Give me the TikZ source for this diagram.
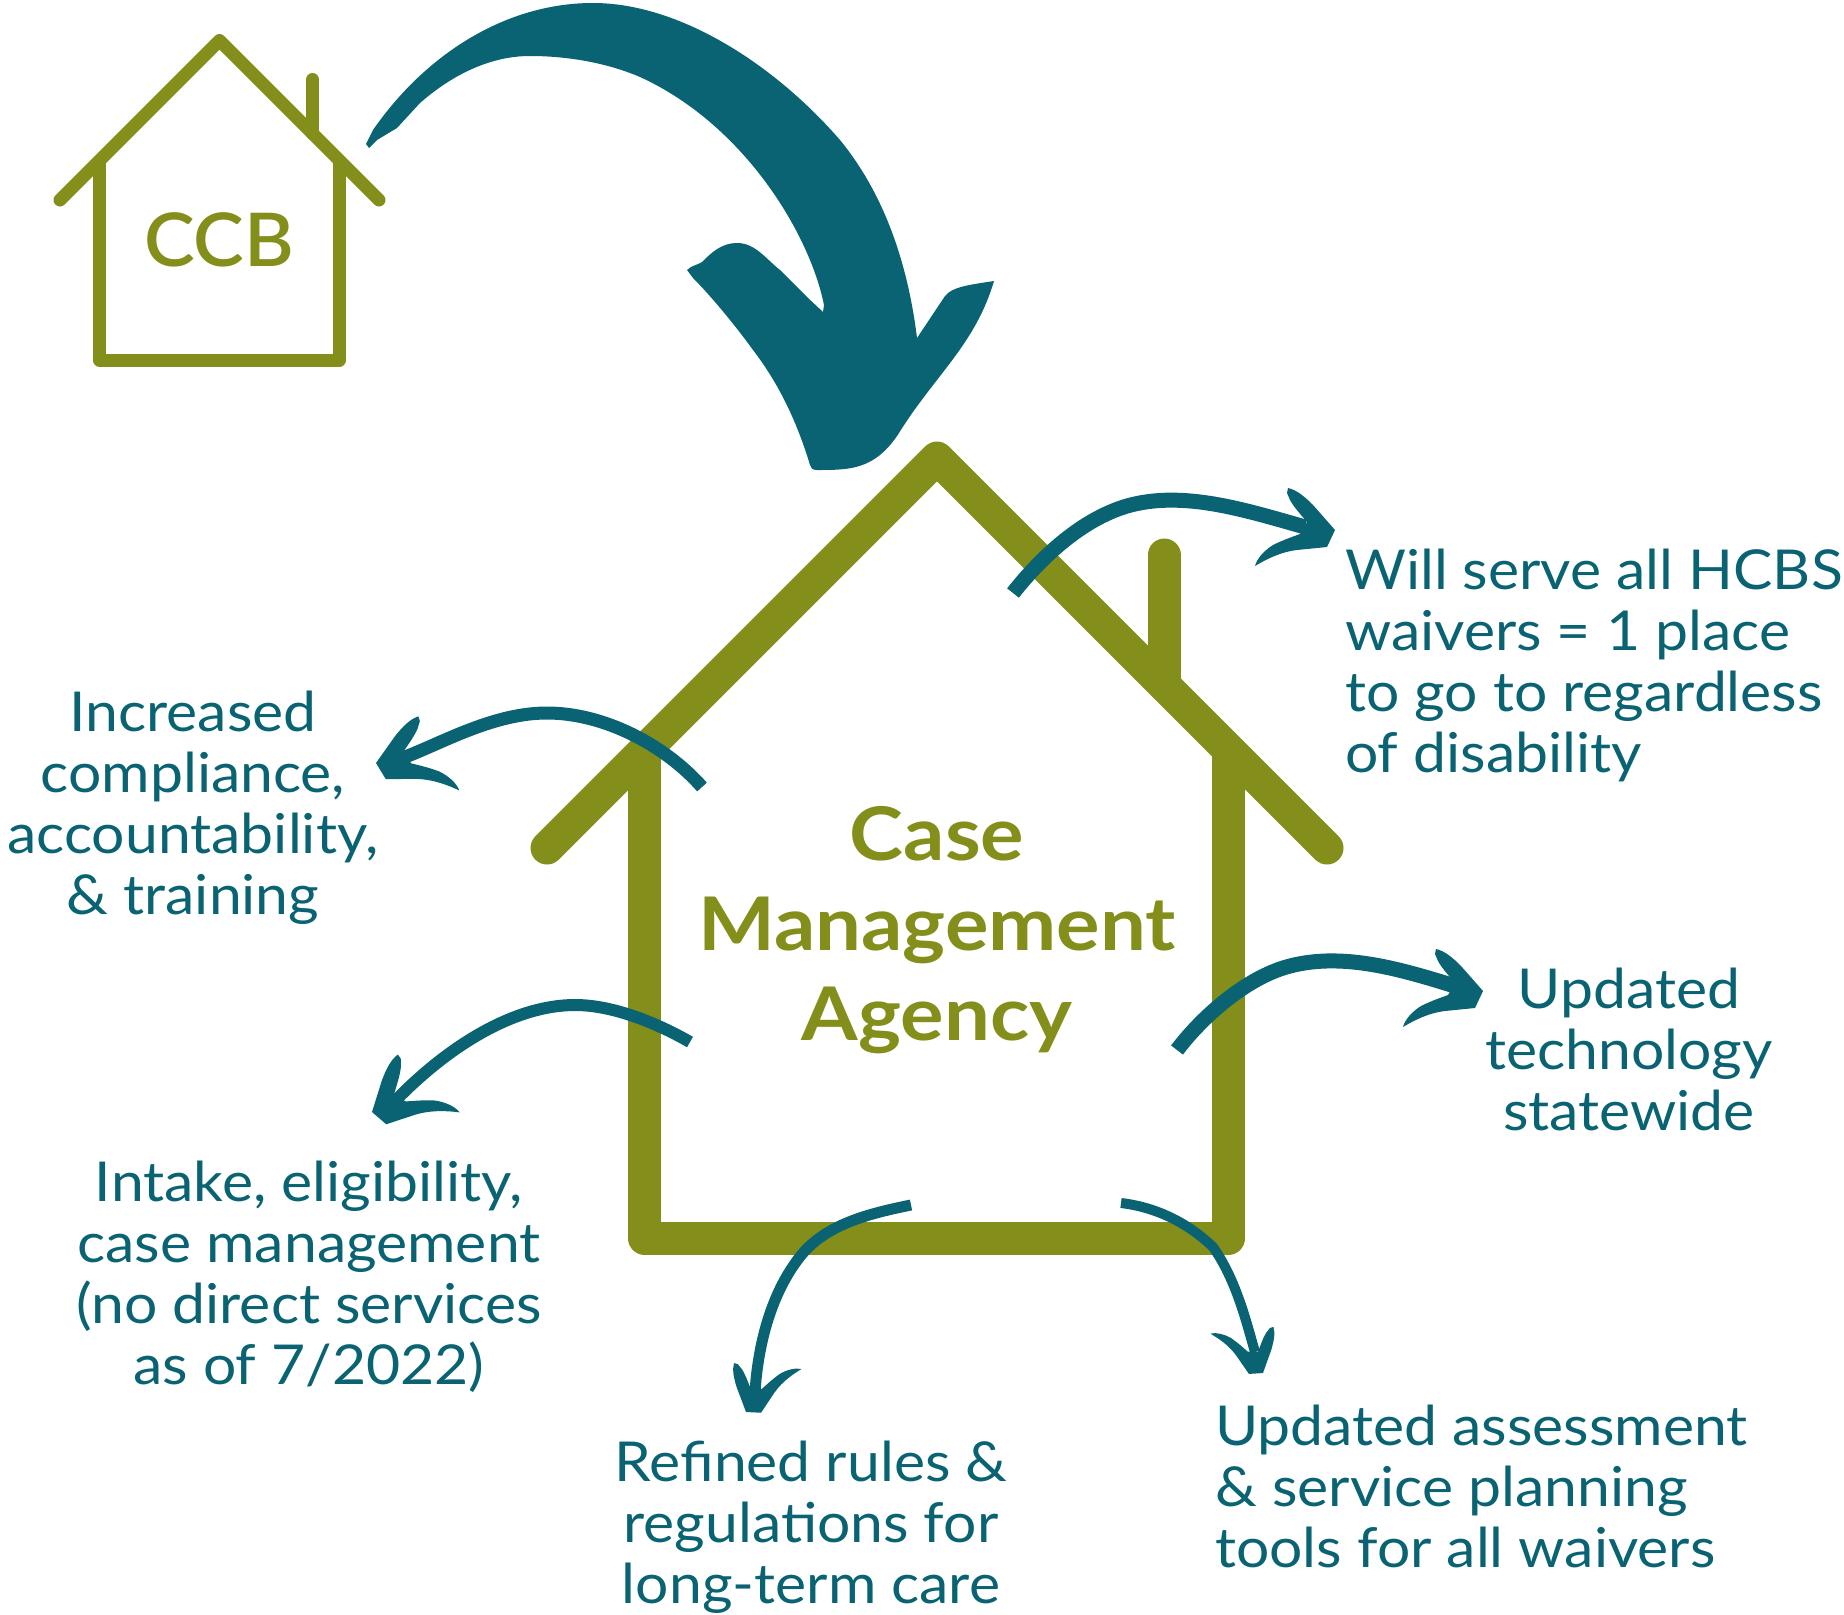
\documentclass[tikz,border=0pt]{standalone}
\usepackage{fontspec}
\setmainfont[FakeStretch=1.07]{Lato}
\newfontfamily\housefont[FakeStretch=1.03]{Lato Semibold}
\newfontfamily\agencyfont[FakeStretch=1.1]{Lato Bold}
\definecolor{houseolive}{RGB}{131,142,27}
\definecolor{arrowteal}{RGB}{9,99,114}
\tikzset{
	bigwall/.style={draw=houseolive, line width=33pt, line join=round},
	bigroof/.style={draw=houseolive, line width=33pt, line join=round, line cap=round},
	smallwall/.style={draw=houseolive, line width=13pt, line join=round},
	smallroof/.style={draw=houseolive, line width=13pt, line join=round, line cap=round},
	brushline/.style={draw=arrowteal, line width=#1},
	labeltext/.style={text=arrowteal, font=\fontsize{55}{61}\selectfont, inner sep=0pt},
	housetext/.style={text=houseolive, inner sep=0pt},
	brushhead/.pic={
		\fill[arrowteal] (0,0) -- (-8,17) -- (-38,20) .. controls (-55,22) and (-70,30) .. (-80,36)
			.. controls (-78,28) and (-70,20) .. (-62,15) .. controls (-50,9) and (-40,6) .. (-35,4)
			-- (-28,-8) .. controls (-34,-15) and (-42,-24) .. (-45,-30) -- (-48,-37) -- (-47,-42)
			.. controls (-38,-40) and (-30,-33) .. (-22,-25) -- cycle;
	}
}
\begin{document}
\begin{tikzpicture}[x=1pt, y=-1pt]
		\useasboundingbox (0,0) rectangle (1844,1614);

		\draw [smallwall] (99.5,160) -- (99.5,360) -- (339.5,360) -- (339.5,160);
		\draw [smallroof] (60,200) -- (219.5,40.5) -- (379,200);
		\draw [smallroof] (312.5,79.5) -- (312.5,133.5);
		\node[housetext, font=\fontsize{74}{80}\housefont] (ccb) at (219,240) {CCB};

		\draw [bigwall] (644.5,750) -- (644.5,1238) -- (1228.5,1238) -- (1228.5,750);
		\draw [bigroof] (547,848) -- (937,458) -- (1327,848);
		\draw [bigroof] (1164,555) -- (1164,685);
		\node[housetext, align=center, font=\fontsize{74}{90}\agencyfont] (agency) at (937,930) {Case\\Management\\Agency};

		\coordinate (bigtail) at (369,148);
		\fill[arrowteal] (bigtail) -- (366,144) -- (373,130) .. controls (425,55) and (505,3) .. (593,3)
			.. controls (680,3) and (775,65) .. (840,140) .. controls (885,195) and (908,265) .. (917,338)
			-- (945,296) .. controls (952,287) and (968,285) .. (994,281)
			.. controls (975,345) and (935,375) .. (899,433) .. controls (875,470) and (850,470) .. (817,470)
			.. controls (812,470) and (811,468) .. (810,465) .. controls (798,425) and (780,385) .. (753,350)
			.. controls (735,325) and (710,295) .. (693,278) -- (687,270) .. controls (692,265) and (698,265) .. (702,262)
			.. controls (712,252) and (722,243) .. (737,243) .. controls (755,243) and (765,258) .. (780,270)
			-- (807,297) -- (823,312) -- (824,305) .. controls (810,235) and (745,125) .. (640,77)
			.. controls (605,62) and (565,56) .. (530,56) .. controls (490,56) and (452,75) .. (420,103)
			-- (397,128) -- (377,140) -- cycle;

		\node[labeltext, anchor=west, align=left] (waivers) at (1345,665) {Will serve all HCBS\\waivers = 1 place\\to go to regardless\\of disability};
		\node[labeltext, align=center] (compliance) at (193,808) {Increased\\compliance,\\accountability,\\\& training};
		\node[labeltext, align=center] (intake) at (309,1277) {Intake, eligibility,\\case management\\(no direct services\\as of 7/2022)};
		\node[labeltext, align=center] (rules) at (811,1527) {Refined rules \&\\regulations for\\long-term care};
		\node[labeltext, anchor=west, align=left] (tools) at (1215,1486) {Updated assessment\\\& service planning\\tools for all waivers};
		\node[labeltext, align=center] (technology) at (1629,1049) {Updated\\technology\\statewide};

		\coordinate (waiverstail) at (1013,593);
		\coordinate (waiversend) at (1305,527);
		\coordinate (waiverstip) at (1335,530);
		\draw [brushline=15pt] (waiverstail) .. controls (1043,555) and (1083,519) .. (1127,506) .. controls (1183,490) and (1245,510) .. (waiversend);
		\path pic at (waiverstip) {brushhead};

		\coordinate (compliancetail) at (702,787);
		\coordinate (complianceend) at (405,757);
		\coordinate (compliancetip) at (376,763);
		\draw [brushline=13pt] (compliancetail) .. controls (665,745) and (604,713) .. (547,713) .. controls (494,713) and (444,742) .. (complianceend);
		\path pic[rotate=6, xscale=-1] at (compliancetip) {brushhead};

		\coordinate (intaketail) at (690,1042);
		\coordinate (intakeend) at (397,1099);
		\coordinate (intaketip) at (372,1112);
		\draw [brushline=12pt] (intaketail) .. controls (655,1022) and (612,1005) .. (575,1005) .. controls (515,1005) and (450,1045) .. (intakeend);
		\path pic[rotate=24, xscale=-1] at (intaketip) {brushhead};

		\coordinate (rulestail) at (911,1205);
		\coordinate (rulesend) at (755,1392);
		\coordinate (rulestip) at (746,1412);
		\draw [brushline=11pt] (rulestail) .. controls (872,1213) and (829,1223) .. (803,1253) .. controls (771,1291) and (758,1345) .. (rulesend);
		\path pic[rotate=62, xscale=-.8, yscale=.8] at (rulestip) {brushhead};

		\coordinate (toolstail) at (1121,1203);
		\coordinate (toolsend) at (1255,1352);
		\coordinate (toolstip) at (1263,1373);
		\draw [brushline=10pt] (toolstail) .. controls (1155,1207) and (1187,1222) .. (1213,1247) .. controls (1237,1281) and (1247,1325) .. (toolsend);
		\path pic[rotate=-61, scale=.75] at (toolstip) {brushhead};

		\coordinate (technologytail) at (1177,1050);
		\coordinate (technologyend) at (1458,987);
		\coordinate (technologytip) at (1483,991);
		\draw [brushline=15pt] (technologytail) .. controls (1202,1017) and (1243,981) .. (1283,968) .. controls (1340,950) and (1403,970) .. (technologyend);
		\path pic at (technologytip) {brushhead};
	\end{tikzpicture}
\end{document}
